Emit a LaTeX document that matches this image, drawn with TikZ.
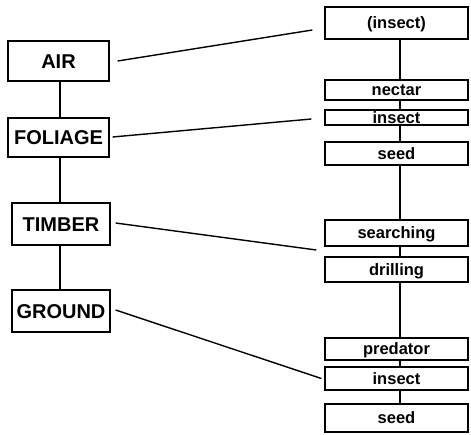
\documentclass[tikz,border=0pt]{standalone}
\usepackage{fontspec}
\setmainfont{Liberation Sans}
\usetikzlibrary{calc}
\tikzset{
  habitat/.style={draw, line width=1.3pt, inner sep=0pt, text height=14.4pt, text depth=0pt, font=\fontsize{20}{22}\selectfont\bfseries},
  activity/.style={draw, line width=1.3pt, inner sep=0pt, text height=11.8pt, text depth=0pt, minimum width=143pt, font=\fontsize{16.5}{18}\selectfont\bfseries},
  link/.style={line width=1.4pt},
}
\begin{document}
\begin{tikzpicture}[x=1pt,y=-1pt]
\useasboundingbox (0,0) rectangle (471,435);
% left column
\node[habitat, minimum width=101pt, minimum height=40pt] (air) at (58.5,61) {AIR};
\node[habitat, minimum width=101pt, minimum height=39pt] (foliage) at (58.5,137.5) {FOLIAGE};
\node[habitat, minimum width=98pt, minimum height=42pt] (timber) at (61,224) {TIMBER};
\node[habitat, minimum width=98pt, minimum height=42pt] (ground) at (61,311) {GROUND};
\draw[link] (air.south -| 60,0) -- (foliage.north -| 60,0);
\draw[link] (foliage.south -| 60,0) -- (timber.north -| 60,0);
\draw[link] (timber.south -| 60,0) -- (ground.north -| 60,0);
% right column
\node[activity, minimum height=32pt] (ins1) at (396.5,23) {(insect)};
\node[activity, minimum height=20pt] (nectar) at (396.5,90) {nectar};
\node[activity, minimum height=15pt] (ins2) at (396.5,117.5) {insect};
\node[activity, minimum height=23pt] (seed1) at (396.5,153.5) {seed};
\node[activity, minimum height=26pt] (search) at (396.5,233) {searching};
\node[activity, minimum height=25pt] (drill) at (396.5,269.5) {drilling};
\node[activity, minimum height=22pt] (pred) at (396.5,349) {predator};
\node[activity, minimum height=23pt] (ins3) at (396.5,378.5) {insect};
\node[activity, minimum height=28pt] (seed2) at (396.5,418) {seed};
\foreach \a/\b in {ins1/nectar, nectar/ins2, ins2/seed1, seed1/search, search/drill, drill/pred, pred/ins3, ins3/seed2}
  \draw[link] (\a.south -| 400,0) -- (\b.north -| 400,0);
% links between columns
\draw[link] ($(air.east)+(8,0)$) -- ($(ins1.west)+(-12,7)$);
\draw[link] ($(foliage.east)+(3,-0.5)$) -- ($(ins2.west)+(-13,1.5)$);
\draw[link] ($(timber.east)+(5,-1)$) -- ($(search.west)+(-8,17)$);
\draw[link] ($(ground.east)+(5,-1)$) -- ($(ins3.west)+(-3,0)$);
\end{tikzpicture}
\end{document}
